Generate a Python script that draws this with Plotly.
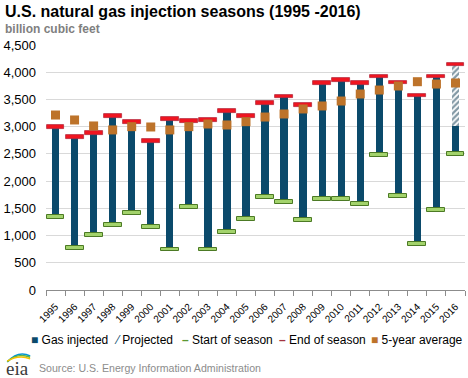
import plotly.graph_objects as go

# ---------------- data ----------------
years = list(range(1995, 2017))
start_of_season = [1336, 767, 1006, 1190, 1409, 1153, 743, 1520, 743, 1061, 1300,
                   1703, 1611, 1281, 1666, 1666, 1574, 2474, 1721, 840, 1464, 2492]
end_of_season = [2987, 2804, 2877, 3190, 3079, 2731, 3134, 3110, 3128, 3294, 3190,
                 3440, 3556, 3391, 3795, 3850, 3795, 3923, 3813, 3574, 3923, 4143]
five_year_avg = [3214, 3123, 3013, 2940, 3000, 2994, 2940, 3000, 3049, 3031, 3092,
                 3177, 3233, 3325, 3380, 3471, 3600, 3673, 3747, 3826, 3783, 3802]
# injected so far (2016 season still in progress)
injected_top = end_of_season[:-1] + [3018]
projected_years = [2016]
projected_base = [3018]
projected_top = [4143]

# ---------------- layout helpers ----------------
W, H = 468, 378
ML, MR, MT, MB = 43, 3, 45, 88
PW, PH = W - ML - MR, H - MT - MB


def px2x(px):
    return (px - ML) / PW


def px2y(py):
    return (H - MB - py) / PH


UNITS_PER_PX = 4500 / PH

BLUE = "#0b4a6b"
ORANGE = "#bd732a"
RED = "#f01520"
RED_LINE = "#b5283c"
GREEN = "#a3d36c"
GREEN_LINE = "#4c7a25"
FONT = "Liberation Sans, Arial, sans-serif"

fig = go.Figure()

# gas injected bars
fig.add_trace(go.Bar(
    x=years,
    base=start_of_season,
    y=[t - s for t, s in zip(injected_top, start_of_season)],
    width=0.38,
    marker=dict(color=BLUE, line=dict(width=0)),
    name="Gas injected", showlegend=False, hoverinfo="skip",
))

# projected (hatched)
fig.add_trace(go.Bar(
    x=projected_years,
    base=projected_base,
    y=[t - b for t, b in zip(projected_top, projected_base)],
    width=0.38,
    marker=dict(color="white", line=dict(width=0),
                pattern=dict(shape="/", fgcolor="#06324a", bgcolor="white",
                             size=4, solidity=0.55)),
    name="Projected", showlegend=False, hoverinfo="skip",
))

# start of season markers
hg = 1.9 * UNITS_PER_PX
fig.add_trace(go.Bar(
    x=years,
    base=[v - hg for v in start_of_season],
    y=[2 * hg] * len(years),
    width=0.94,
    marker=dict(color=GREEN, line=dict(color=GREEN_LINE, width=1)),
    name="Start of season", showlegend=False, hoverinfo="skip",
))

# end of season markers
hr = 1.9 * UNITS_PER_PX
fig.add_trace(go.Bar(
    x=years,
    base=[v - hr for v in end_of_season],
    y=[2 * hr] * len(years),
    width=0.94,
    marker=dict(color=RED, line=dict(color=RED_LINE, width=0.8)),
    name="End of season", showlegend=False, hoverinfo="skip",
))

# 5-year average
fig.add_trace(go.Scatter(
    x=years, y=five_year_avg, mode="markers",
    marker=dict(symbol="square", size=9, color=ORANGE, line=dict(width=0)),
    name="5-year average", showlegend=False, hoverinfo="skip",
))

annotations = []
# title and subtitle
annotations.append(dict(text="<b>U.S. natural gas injection seasons (1995 -2016)</b>",
                        xref="paper", yref="paper", x=px2x(0), y=px2y(12),
                        xanchor="left", yanchor="middle", showarrow=False,
                        font=dict(size=16, color="#000000", family=FONT)))
annotations.append(dict(text="<b>billion cubic feet</b>",
                        xref="paper", yref="paper", x=px2x(0), y=px2y(29),
                        xanchor="left", yanchor="middle", showarrow=False,
                        font=dict(size=12, color="#7f7f7f", family=FONT)))

# custom legend
legend_y = px2y(340)
legend_items = [
    (26, f'<span style="color:{BLUE}">■</span> Gas injected'),
    (109, f'<span style="color:{BLUE}">⁄</span> Projected'),
    (178, '<span style="color:#5d9732"><b>–</b></span> Start of season'),
    (276, '<span style="color:#a33340"><b>–</b></span> End of season'),
    (368, f'<span style="color:{ORANGE}">■</span> 5-year average'),
]
for px, txt in legend_items:
    annotations.append(dict(text=txt, xref="paper", yref="paper",
                            x=px2x(px), y=legend_y, xanchor="left", yanchor="middle",
                            showarrow=False,
                            font=dict(size=12, color="#000000", family=FONT)))

# source + logo
annotations.append(dict(text="Source: U.S. Energy Information Administration",
                        xref="paper", yref="paper", x=px2x(34), y=px2y(368),
                        xanchor="left", yanchor="middle", showarrow=False,
                        font=dict(size=10.6, color="#8c8c8c", family=FONT)))
annotations.append(dict(text="eia", xref="paper", yref="paper", x=px2x(1), y=px2y(369),
                        xanchor="left", yanchor="middle", showarrow=False,
                        font=dict(size=19, color="#3a3a3a",
                                  family="Liberation Serif, DejaVu Serif, serif")))

shapes = []
# logo swooshes
for col, dy in [("#0096d7", 0), ("#5fb346", 2.2), ("#f6c200", 4.4)]:
    x0, x1 = px2x(4), px2x(27)
    xm = px2x(15)
    y0 = px2y(362 - dy * 0.2)
    ym = px2y(350 + dy)
    y1 = px2y(356 + dy * 0.6)
    shapes.append(dict(type="path", xref="paper", yref="paper",
                       path=f"M {x0} {y0} Q {xm} {ym} {x1} {y1}",
                       line=dict(color=col, width=1.6)))

fig.update_layout(
    width=W, height=H,
    margin=dict(l=ML, r=MR, t=MT, b=MB, pad=0),
    paper_bgcolor="white", plot_bgcolor="white",
    barmode="overlay", bargap=0,
    showlegend=False,
    font=dict(family=FONT, color="#000000"),
    annotations=annotations,
    shapes=shapes,
    xaxis=dict(
        range=[1994.5, 2016.5],
        tickmode="array", tickvals=years, ticktext=[str(y) for y in years],
        tickangle=-45, tickfont=dict(size=10, color="#000000"),
        ticks="", showgrid=False, zeroline=False,
        showline=True, linecolor="#8c8c8c", linewidth=1,
        minor=dict(tickmode="array", tickvals=[y - 0.5 for y in years] + [2016.5],
                   ticks="outside", ticklen=5, tickcolor="#8c8c8c", showgrid=False),
        ticklabelstandoff=6,
        fixedrange=True,
    ),
    yaxis=dict(
        range=[0, 4500], dtick=500, tickformat=",",
        tickfont=dict(size=13, color="#000000"),
        showgrid=True, gridcolor="#d9d9d9", gridwidth=1,
        zeroline=False, showline=False, ticks="",
        ticklabelstandoff=9,
        fixedrange=True,
    ),
)

fig.write_html(
    "out.html",
    config={"displayModeBar": False},
    post_script="document.body.style.margin='0';document.body.style.overflow='hidden';",
)
